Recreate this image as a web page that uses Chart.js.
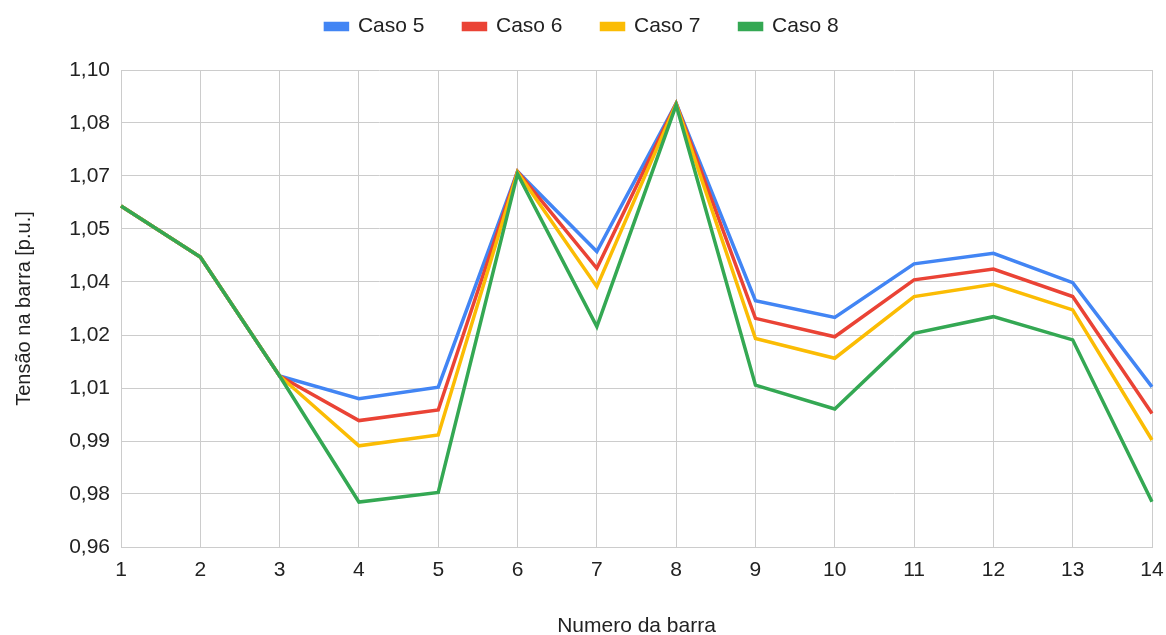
<!DOCTYPE html>
<html>
<head>
<meta charset="utf-8">
<script src="https://cdn.jsdelivr.net/npm/chart.js@4"></script>
<style>
  html, body { margin: 0; padding: 0; background: #fff; }
  #wrap { width: 1166px; height: 635px; }
</style>
</head>
<body>
<div id="wrap"><canvas id="chart" width="1166" height="635"></canvas></div>
<script>
// barras
const barras = ["1","2","3","4","5","6","7","8","9","10","11","12","13","14"];

// tensões [p.u.]
const caso5 = [1.0601, 1.0451, 1.0102, 1.0035, 1.0069, 1.0702, 1.0467, 1.0902, 1.0323, 1.0274, 1.0431, 1.0462, 1.0376, 1.0070];
const caso6 = [1.0601, 1.0451, 1.0102, 0.9971, 1.0002, 1.0702, 1.0418, 1.0902, 1.0271, 1.0217, 1.0384, 1.0416, 1.0335, 0.9992];
const caso7 = [1.0601, 1.0451, 1.0102, 0.9897, 0.9929, 1.0700, 1.0364, 1.0900, 1.0212, 1.0154, 1.0335, 1.0371, 1.0296, 0.9914];
const caso8 = [1.0601, 1.0451, 1.0102, 0.9732, 0.9760, 1.0695, 1.0247, 1.0897, 1.0075, 1.0005, 1.0227, 1.0276, 1.0208, 0.9733];

// rótulos do eixo y (10 divisões iguais entre 0,96 e 1,10)
const yMin = 0.96, yMax = 1.10;
const yTickLabels = ["0,96","0,98","0,99","1,01","1,02","1,04","1,05","1,07","1,08","1,10"];

const FONT = "'Liberation Sans', Arial, sans-serif";
const TXT = "#222";
const GRID = "#cccccc";

function ds(label, data, color, order){
  return {
    label, data, order,
    borderColor: color,
    backgroundColor: color,
    borderWidth: 3.5,
    pointRadius: 0,
    tension: 0,
    fill: false
  };
}

// espaço extra abaixo da legenda e leve deslocamento para a esquerda
const legendGap = {
  id: "legendGap",
  beforeInit(chart){
    const fit = chart.legend.fit;
    chart.legend.fit = function(){
      fit.call(this);
      this.height += 23;
      if (this.lineWidths && this.lineWidths.length) this.lineWidths[0] += 14;
    };
  }
};

new Chart(document.getElementById("chart"), {
  type: "line",
  data: {
    labels: barras,
    datasets: [
      ds("Caso 5", caso5, "#4285f4", 3),
      ds("Caso 6", caso6, "#ea4335", 2),
      ds("Caso 7", caso7, "#fbbc04", 1),
      ds("Caso 8", caso8, "#34a853", 0),
    ]
  },
  plugins: [legendGap],
  options: {
    responsive: false,
    animation: false,
    layout: { padding: { top: -23, right: 0, bottom: 0, left: 12 } },
    plugins: {
      legend: {
        position: "top",
        labels: {
          boxWidth: 22, boxHeight: 6, padding: 39,
          color: TXT,
          font: { family: FONT, size: 21 },
          sort: (a, b) => a.datasetIndex - b.datasetIndex
        }
      },
      tooltip: { enabled: false }
    },
    scales: {
      x: {
        type: "category",
        offset: false,
        grid: { color: GRID, lineWidth: 1, drawTicks: false },
        border: { color: GRID },
        ticks: { color: TXT, font: { family: FONT, size: 21 }, padding: 11, maxRotation: 0, autoSkip: false },
        title: { display: true, text: "Numero da barra", color: TXT, font: { family: FONT, size: 21, lineHeight: 0.85 }, padding: 0 },
        afterFit: s => { s.height = 88; s.paddingRight = 14; }
      },
      y: {
        min: yMin, max: yMax,
        grid: { color: GRID, lineWidth: 1, drawTicks: false },
        border: { color: GRID },
        ticks: {
          count: yTickLabels.length,
          color: TXT, font: { family: FONT, size: 21 }, padding: 11,
          callback: (v, i) => yTickLabels[i]
        },
        title: { display: true, text: "Tensão na barra [p.u.]", color: TXT, font: { family: FONT, size: 20 }, padding: 0 },
        afterFit: s => { s.width = 109; }
      }
    }
  }
});
</script>
</body>
</html>
